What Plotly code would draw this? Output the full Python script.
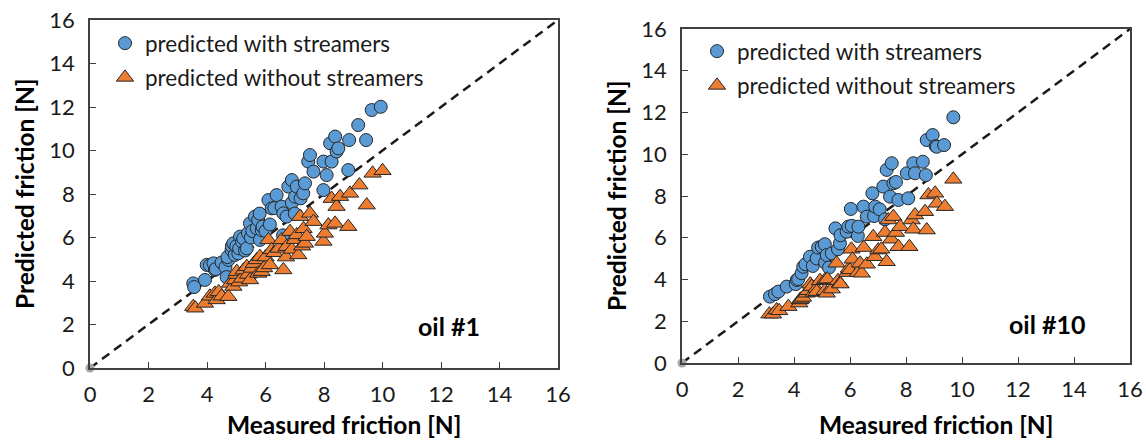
import plotly.graph_objects as go

# ---------------- data ----------------
oil1_with_x = [3.53, 3.56, 3.93, 3.99, 4.1, 4.22, 4.27, 4.3, 4.5, 4.63, 4.67, 4.73, 4.7, 4.84, 4.85, 4.9,
               4.95, 5.0, 5.07, 5.1, 5.13, 5.2, 5.24, 5.3, 5.36, 5.4, 5.47, 5.5, 5.55, 5.64, 5.7, 5.75,
               5.8, 5.81, 5.87, 5.9, 6.0, 6.1, 6.15, 6.21, 6.3, 6.38, 6.55, 6.6, 6.61, 6.72, 6.78, 6.9,
               6.9, 7.0, 7.01, 7.07, 7.2, 7.29, 7.35, 7.46, 7.52, 7.64, 7.98, 7.98, 8.09, 8.21, 8.26,
               8.38, 8.43, 8.49, 8.83, 8.86, 9.17, 9.44, 9.63, 9.94]
oil1_with_y = [3.89, 3.72, 4.05, 4.74, 4.72, 4.81, 4.51, 4.55, 4.85, 4.64, 4.18, 4.97, 5.1, 5.43, 5.6, 5.73,
               5.2, 5.6, 5.27, 5.5, 6.04, 5.8, 5.96, 5.4, 5.5, 6.2, 6.65, 6.0, 6.3, 6.96, 6.42, 6.8,
               7.1, 5.89, 6.34, 6.5, 6.3, 7.72, 6.6, 7.34, 7.35, 7.95, 7.42, 6.1, 7.11, 6.96, 8.34, 8.64,
               7.6, 7.1, 7.88, 8.34, 7.8, 8.03, 8.49, 9.49, 9.79, 9.03, 9.49, 8.18, 8.87, 10.33, 9.49,
               10.64, 9.95, 10.1, 9.1, 10.48, 11.17, 10.48, 11.86, 12.01]
oil1_without_x = [3.53, 3.6, 3.93, 4.1, 4.27, 4.33, 4.4, 4.5, 4.73, 4.79, 4.9, 4.96, 5.0, 5.02, 5.1, 5.19,
                  5.25, 5.36, 5.4, 5.47, 5.53, 5.6, 5.7, 5.75, 5.81, 5.87, 5.95, 6.0, 6.1, 6.15, 6.21,
                  6.3, 6.45, 6.55, 6.61, 6.7, 6.72, 6.84, 6.9, 7.0, 7.07, 7.12, 7.18, 7.25, 7.3, 7.35,
                  7.41, 7.52, 7.64, 7.98, 8.03, 8.15, 8.26, 8.38, 8.43, 8.55, 8.83, 8.89, 9.21, 9.46,
                  9.66, 10.0]
oil1_without_y = [2.82, 2.75, 2.97, 3.3, 3.43, 3.13, 3.5, 3.3, 3.28, 3.89, 3.75, 4.05, 4.3, 4.43, 3.95, 4.12,
                  4.5, 4.66, 4.3, 4.05, 4.58, 4.8, 4.97, 4.35, 5.12, 4.43, 4.6, 5.1, 5.89, 4.74, 5.43,
                  5.3, 5.5, 5.89, 4.51, 5.1, 5.58, 6.27, 5.45, 5.9, 6.12, 5.2, 6.96, 5.6, 6.4, 5.73,
                  6.04, 7.11, 6.73, 5.82, 6.19, 6.57, 7.79, 6.65, 7.42, 7.88, 6.5, 8.03, 8.41, 7.49,
                  8.95, 9.07]

oil10_with_x = [3.14, 3.32, 3.44, 3.74, 4.06, 4.1, 4.15, 4.27, 4.33, 4.41, 4.57, 4.67, 4.81, 4.86, 4.99,
                5.1, 5.11, 5.17, 5.25, 5.35, 5.48, 5.57, 5.64, 5.66, 5.88, 5.94, 6.03, 6.06, 6.28, 6.3,
                6.48, 6.6, 6.8, 6.86, 6.9, 7.06, 7.19, 7.25, 7.31, 7.43, 7.49, 7.55, 7.64, 7.73, 8.03,
                8.08, 8.26, 8.32, 8.6, 8.71, 8.74, 8.95, 9.06, 9.1, 9.36, 9.69]
oil10_with_y = [3.18, 3.3, 3.42, 3.66, 3.78, 3.98, 4.02, 4.3, 4.61, 4.73, 5.09, 4.65, 5.01, 5.53, 5.57,
                5.69, 4.81, 5.17, 4.57, 5.25, 6.45, 5.45, 5.73, 6.12, 6.29, 6.53, 7.38, 6.57, 6.09, 6.53,
                7.49, 7.01, 8.13, 7.04, 7.49, 7.36, 8.45, 6.88, 9.25, 7.97, 9.57, 8.61, 8.67, 7.81, 9.09,
                7.89, 9.57, 9.09, 9.64, 9.0, 10.68, 10.92, 10.39, 10.36, 10.44, 11.77]
oil10_without_x = [3.12, 3.25, 3.38, 3.47, 3.8, 4.19, 4.21, 4.25, 4.32, 4.45, 4.5, 4.58, 4.63, 4.71, 4.8,
                   4.81, 4.93, 5.1, 5.11, 5.17, 5.19, 5.35, 5.52, 5.57, 5.64, 5.66, 5.9, 5.96, 6.0,
                   6.05, 6.09, 6.28, 6.36, 6.42, 6.49, 6.6, 6.83, 6.89, 7.01, 7.12, 7.25, 7.31, 7.37,
                   7.47, 7.55, 7.64, 7.73, 7.79, 8.12, 8.2, 8.26, 8.32, 8.68, 8.74, 8.8, 9.04, 9.1,
                   9.39, 9.69]
oil10_without_y = [2.34, 2.34, 2.54, 2.5, 2.7, 2.87, 3.02, 3.06, 3.14, 3.34, 3.46, 3.78, 3.66, 3.38, 3.57,
                   3.42, 3.94, 3.46, 3.98, 3.34, 4.02, 3.54, 4.78, 3.94, 3.82, 3.78, 4.33, 4.53, 4.46,
                   5.45, 4.97, 4.33, 4.78, 4.3, 5.53, 4.73, 6.05, 5.09, 5.41, 5.45, 6.25, 4.85, 6.85,
                   5.93, 7.01, 6.25, 5.57, 6.53, 5.57, 6.85, 6.41, 7.09, 7.25, 6.37, 8.05, 8.13, 7.65,
                   7.49, 8.8]

diag_x = [0, 16]
diag_y = [0, 16]
origin_x = [0]
origin_y = [0]
tick_vals = [0, 2, 4, 6, 8, 10, 12, 14, 16]
tick_text = ["0", "2", "4", "6", "8", "10", "12", "14", "16"]

name_with = "predicted with streamers"
name_without = "predicted without streamers"
x_title = "Measured friction [N]"
y_title = "Predicted friction [N]"
panel_labels = ["oil #1", "oil #10"]

# ---------------- styling ----------------
FONT = "Lato"
BLUE = "#5B9BD5"
ORANGE = "#ED7D31"
EDGE = "#262626"
AXIS = "#404040"

W, H = 1146, 440
# plot-area pixel boxes (left, right, top, bottom)
boxes = [(90, 558, 20, 368), (682, 1130, 29, 363)]
x_title_centers = [344, 936]

fig = go.Figure()

panels = [
    (oil1_with_x, oil1_with_y, oil1_without_x, oil1_without_y, "x", "y", "legend"),
    (oil10_with_x, oil10_with_y, oil10_without_x, oil10_without_y, "x2", "y2", "legend2"),
]

for wx, wy, ox, oy, xa, ya, lg in panels:
    fig.add_trace(go.Scatter(x=diag_x, y=diag_y, mode="lines", xaxis=xa, yaxis=ya,
                             line=dict(color="#1a1a1a", width=2.5, dash="9px,6px"),
                             showlegend=False, hoverinfo="skip"))
    fig.add_trace(go.Scatter(x=origin_x, y=origin_y, mode="markers", xaxis=xa, yaxis=ya,
                             marker=dict(color="#A6A6A6", size=9, line=dict(width=0)),
                             cliponaxis=False, showlegend=False, hoverinfo="skip"))
    fig.add_trace(go.Scatter(x=wx, y=wy, mode="markers", xaxis=xa, yaxis=ya, name=name_with,
                             legend=lg, legendgroup=lg + "a",
                             marker=dict(symbol="circle", size=13, color=BLUE,
                                         line=dict(color=EDGE, width=1))))
    fig.add_trace(go.Scatter(x=ox, y=oy, mode="markers", xaxis=xa, yaxis=ya, name=name_without,
                             legend=lg, legendgroup=lg + "b",
                             marker=dict(symbol="triangle-up", size=15, color=ORANGE,
                                         line=dict(color=EDGE, width=1))))

def axis_common():
    return dict(range=[0, 16], tickvals=tick_vals, ticktext=tick_text, ticks="inside",
                ticklen=6, tickwidth=1.3, tickcolor=AXIS, showline=True, linecolor=AXIS,
                linewidth=1.5, mirror=True, showgrid=False, zeroline=False,
                tickfont=dict(family=FONT, size=22, color="#1a1a1a"), fixedrange=True,
                automargin=False)

layout_axes = {}
for i, (l, r, t, b) in enumerate(boxes):
    sx = "" if i == 0 else "2"
    layout_axes["xaxis" + sx] = dict(axis_common(), domain=[l / W, r / W],
                                     anchor="y" + sx, ticklabelstandoff=6)
    layout_axes["yaxis" + sx] = dict(axis_common(), domain=[1 - b / H, 1 - t / H],
                                     anchor="x" + sx, ticklabelstandoff=9)

fig.update_layout(**layout_axes)

legend_common = dict(xanchor="left", yanchor="top", bgcolor="rgba(0,0,0,0)",
                     font=dict(family=FONT, size=22.5, color="#1a1a1a"),
                     traceorder="grouped", tracegroupgap=2, itemwidth=30)
fig.update_layout(
    legend=dict(legend_common, x=(127 - 22) / W, y=1 - 22 / H),
    legend2=dict(legend_common, x=(719 - 22) / W, y=1 - 30 / H),
)

annotations = []
# axis titles
title_font = dict(family=FONT, size=24.5, color="#000000")
for (l, r, t, b), xc in zip(boxes, x_title_centers):
    annotations.append(dict(text="<b>" + x_title + "</b>", xref="paper", yref="paper",
                            x=xc / W, y=1 - 424 / H, showarrow=False,
                            xanchor="center", yanchor="middle", font=title_font))
    annotations.append(dict(text="<b>" + y_title + "</b>", xref="paper", yref="paper",
                            x=(l - 66) / W, y=1 - (t + b) / 2 / H, showarrow=False, textangle=-90,
                            xanchor="center", yanchor="middle", font=title_font))
# panel labels
for (xc, yc), lab in zip([(449, 326), (1047, 324)], panel_labels):
    annotations.append(dict(text="<b>" + lab + "</b>", xref="paper", yref="paper",
                            x=xc / W, y=1 - yc / H, showarrow=False, xanchor="center",
                            yanchor="middle", font=dict(family=FONT, size=25, color="#000000")))

fig.update_layout(
    annotations=annotations,
    width=W, height=H,
    margin=dict(l=0, r=0, t=0, b=0),
    paper_bgcolor="white", plot_bgcolor="white",
    showlegend=True,
)

fig.write_html("out.html", config={"displayModeBar": False},
               post_script="document.body.style.margin='0px';document.body.style.overflow='hidden';")
